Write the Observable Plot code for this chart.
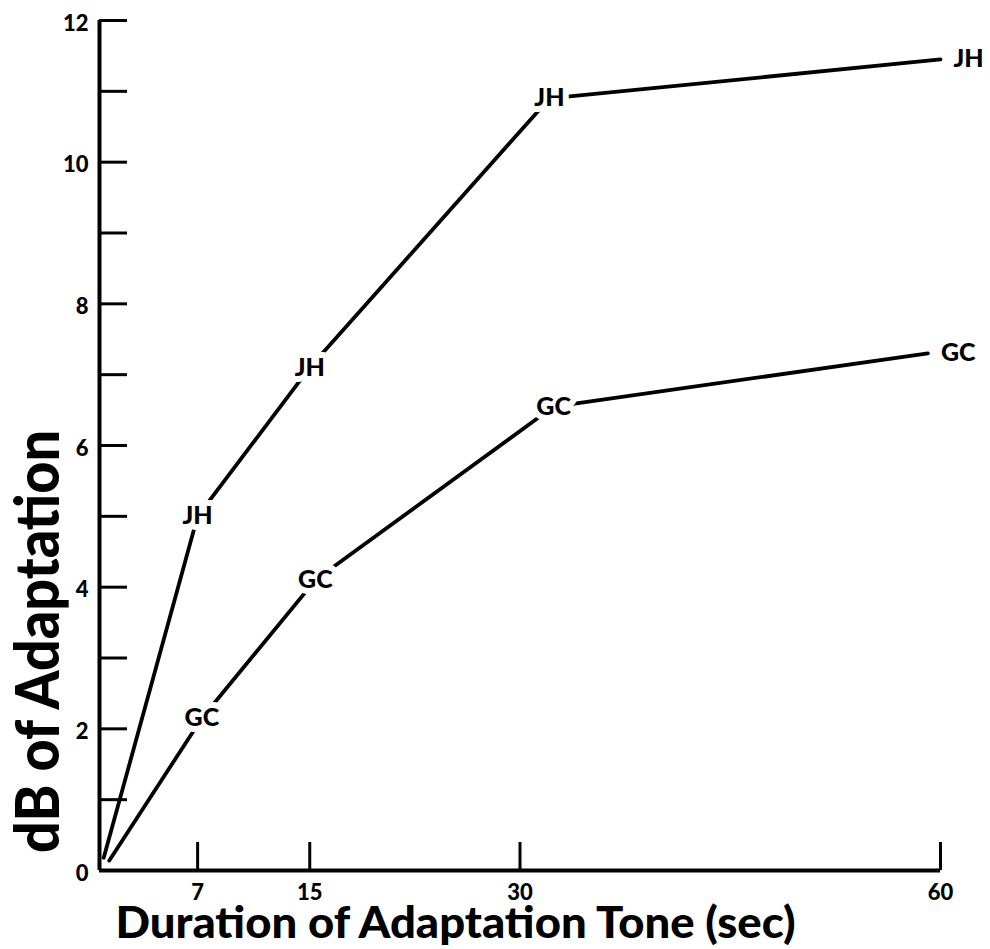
<!DOCTYPE html>
<html><head><meta charset="utf-8">
<script src="https://cdn.jsdelivr.net/npm/d3@7"></script>
<script src="https://cdn.jsdelivr.net/npm/@observablehq/plot@0.6"></script>
<style>
html,body{margin:0;padding:0;background:#fff;}
</style>
</head><body><div id="chart"></div>
<script>
// Listener labels
const seriesNames = ["JH", "GC"];
// Points as drawn in the original (x = duration position, y = dB of adaptation)
const jhX = [0.3, 7.0, 15.0, 32.1, 60.0];
const jhY = [0.18, 5.0, 7.1, 10.9, 11.45];
const gcX = [0.7, 7.3, 15.4, 32.4, 59.1];
const gcY = [0.14, 2.15, 4.1, 6.55, 7.3];
// Axis ticks and labels
const xTickValues = [7, 15, 30, 60];
const yTickValues = [1, 2, 3, 4, 5, 6, 7, 8, 9, 10, 11, 12];
const yLabelValues = [0, 2, 4, 6, 8, 10, 12];
const xTitle = "Duration of Adaptation Tone (sec)";
const yTitle = "dB of Adaptation";

const rows = [
  ...jhX.map((x, i) => ({series: seriesNames[0], x, y: jhY[i], i, n: jhX.length})),
  ...gcX.map((x, i) => ({series: seriesNames[1], x, y: gcY[i], i, n: gcX.length}))
];
const interior = rows.filter(d => d.i > 0 && d.i < d.n - 1);
const ends = rows.filter(d => d.i === d.n - 1);

const W = 990, H = 949, mL = 99, mR = 50, mT = 20, mB = 79;
const tickLen = 28;
const font = "Lato, 'DejaVu Sans', sans-serif";

const chart = Plot.plot({
  width: W, height: H,
  marginLeft: mL, marginRight: mR, marginTop: mT, marginBottom: mB,
  style: {fontFamily: font, fontWeight: 900, background: "#fff", color: "#000"},
  x: {domain: [0, 60], axis: null},
  y: {domain: [0, 12], axis: null},
  marks: [
    Plot.ruleX([0], {x: d => d, y1: 0, y2: 12, strokeWidth: 4, stroke: "#000"}),
    Plot.ruleY([0], {y: d => d, x1: 0, x2: 60, strokeWidth: 4, stroke: "#000"}),
    Plot.tickY(yTickValues, {y: d => d, insetRight: (W - mL - mR) - tickLen, strokeWidth: 3, stroke: "#000"}),
    Plot.tickX(xTickValues, {x: d => d, insetTop: (H - mT - mB) - tickLen, strokeWidth: 3, stroke: "#000"}),
    Plot.text(yLabelValues, {y: d => d, text: d => String(d), frameAnchor: "left", textAnchor: "end", dx: -11, dy: 3, fontSize: 22, fill: "#000"}),
    Plot.text(xTickValues, {x: d => d, text: d => String(d), frameAnchor: "bottom", lineAnchor: "top", dy: 14, fontSize: 22, fill: "#000"}),
    Plot.line(rows, {x: "x", y: "y", z: "series", stroke: "#000", strokeWidth: 3.8, strokeLinecap: "round"}),
    Plot.text(interior, {x: "x", y: "y", text: "series", fontSize: 25, fill: "#000", stroke: "#fff", strokeWidth: 12}),
    Plot.text(ends, {x: "x", y: "y", text: "series", fontSize: 25, fill: "#000", textAnchor: "start", dx: 13}),
    Plot.text([xTitle], {text: d => d, frameAnchor: "bottom-left", textAnchor: "start", lineAnchor: "bottom", dx: 16, dy: 67, fontSize: 44, fill: "#000"}),
    Plot.text([yTitle], {text: d => d, frameAnchor: "left", rotate: -90, textAnchor: "middle", lineAnchor: "middle", dx: -60, dy: 196, fontSize: 60, fill: "#000"})
  ]
});

const svg = d3.select(chart);
svg.selectAll("text").filter(function() { return this.textContent === xTitle; })
  .attr("textLength", 680).attr("lengthAdjust", "spacingAndGlyphs");
svg.selectAll("text").filter(function() { return this.textContent === yTitle; })
  .attr("textLength", 423).attr("lengthAdjust", "spacingAndGlyphs");

document.getElementById("chart").appendChild(chart);
</script>
</body></html>
